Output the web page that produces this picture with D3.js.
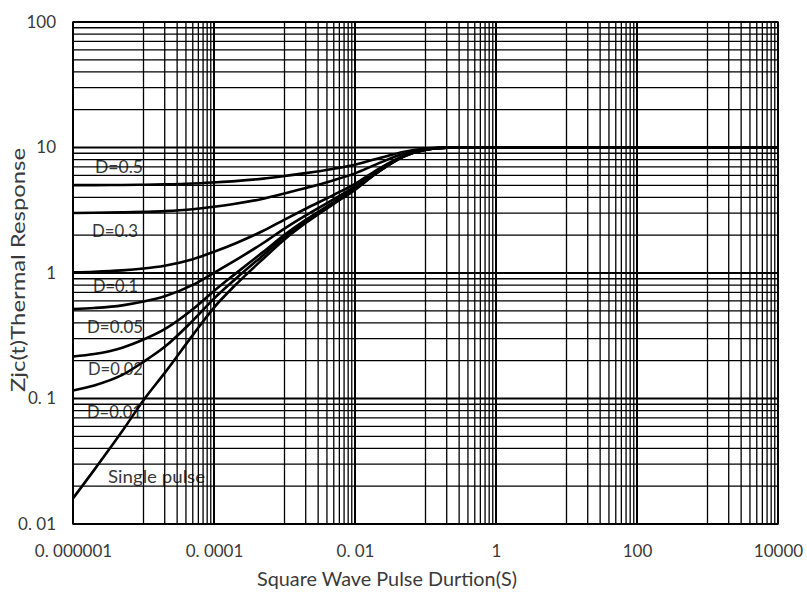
<!DOCTYPE html>
<html><head><meta charset="utf-8">
<script src="https://cdn.jsdelivr.net/npm/d3@7"></script>
<style>body{margin:0;background:#fff}</style>
</head><body>
<svg id="c" width="807" height="592"></svg>
<script>
// ---------- data ----------
const pulseDurations = [1e-6,2e-6,5e-6,1e-5,2e-5,5e-5,1e-4,2e-4,5e-4,1e-3,2e-3,5e-3,1e-2,2e-2,5e-2,1e-1,2e-1,1,10,100,1000,10000];
const dutyD05  = [5.01,5.01,5.03,5.05,5.08,5.16,5.27,5.40,5.65,5.93,6.25,6.78,7.30,8.10,9.25,9.80,9.98,10,10,10,10,10];
const dutyD03  = [3.01,3.02,3.04,3.07,3.11,3.22,3.37,3.56,3.91,4.30,4.75,5.49,6.22,7.34,8.95,9.72,9.97,10,10,10,10,10];
const dutyD01  = [1.014,1.024,1.05,1.087,1.144,1.288,1.477,1.72,2.17,2.665,3.25,4.195,5.14,6.58,8.65,9.64,9.955,10,10,10,10,10];
const dutyD005 = [0.515,0.526,0.552,0.592,0.652,0.804,1.004,1.26,1.735,2.258,2.875,3.873,4.87,6.39,8.575,9.62,9.95,10,10,10,10,10];
const dutyD002 = [0.216,0.226,0.254,0.295,0.357,0.514,0.719,0.984,1.474,2.013,2.65,3.679,4.708,6.276,8.53,9.608,9.951,10,10,10,10,10];
const dutyD001 = [0.116,0.127,0.154,0.196,0.258,0.417,0.625,0.892,1.387,1.932,2.575,3.615,4.654,6.238,8.515,9.604,9.95,10,10,10,10,10];
const singlePulse = [0.016,0.027,0.055,0.097,0.16,0.32,0.53,0.80,1.30,1.85,2.5,3.55,4.6,6.2,8.5,9.6,9.95,10,10,10,10,10];
const seriesNames = ["D=0.5","D=0.3","D=0.1","D=0.05","D=0.02","D=0.01","Single pulse"];
const seriesValues = [dutyD05,dutyD03,dutyD01,dutyD005,dutyD002,dutyD001,singlePulse];

const xTickValues = [1e-6,1e-4,1e-2,1,100,10000];
const xTickLabels = ["0. 000001","0. 0001","0. 01","1","100","10000"];
const yTickValues = [0.01,0.1,1,10,100];
const yTickLabels = ["0. 01","0. 1","1","10","100"];
const xMinorDecades = [1e-5,1e-3,1e-1,10,1000];
const xMinorMultipliers = [1,2,3,4,5,6,7,8,9];
const yMinorDecades = [0.01,0.1,1,10];
const yMinorMultipliers = [2,3,4,5,6,7,8,9];
const xTitle = "Square Wave Pulse Durtion(S)";
const yTitle = "Zjc(t)Thermal Response";

// ---------- layout ----------
const L = 73, R = 778, T = 22, B = 524;
const svg = d3.select("#c");
const x = d3.scaleLog().domain([1e-6,1e4]).range([L,R]);
const y = d3.scaleLog().domain([0.01,100]).range([B,T]);
const FONT = "Lato, 'Open Sans', sans-serif";
const TXT = "#3a3a3a";

// curve labels (under the grid, as in the reference)
const labelPos = [[95,173],[92,237],[93,292],[87,333],[88,375],[87,418],[108,483]];
const labelLen = [48,46,45,56,55,55,97];
svg.append("g").selectAll("text").data(seriesNames).join("text")
  .attr("x",(d,i)=>labelPos[i][0]).attr("y",(d,i)=>labelPos[i][1])
  .attr("textLength",(d,i)=>labelLen[i]).attr("lengthAdjust","spacingAndGlyphs")
  .attr("font-family",FONT).attr("font-size",17).attr("fill",TXT).text(d=>d);

// grid
const xMinor = xMinorDecades.flatMap(d=>xMinorMultipliers.map(m=>d*m));
const yMinor = yMinorDecades.flatMap(d=>yMinorMultipliers.map(m=>d*m));
const grid = svg.append("g").attr("stroke","#000");
grid.selectAll(".xm").data(xMinor).join("line")
  .attr("x1",d=>x(d)).attr("x2",d=>x(d)).attr("y1",T).attr("y2",B).attr("stroke-width",1.3);
grid.selectAll(".ym").data(yMinor).join("line")
  .attr("y1",d=>y(d)).attr("y2",d=>y(d)).attr("x1",L).attr("x2",R).attr("stroke-width",1.3);
grid.selectAll(".xM").data(xTickValues).join("line")
  .attr("x1",d=>x(d)).attr("x2",d=>x(d)).attr("y1",T).attr("y2",B).attr("stroke-width",2);
grid.selectAll(".yM").data(yTickValues).join("line")
  .attr("y1",d=>y(d)).attr("y2",d=>y(d)).attr("x1",L).attr("x2",R).attr("stroke-width",2);
svg.append("rect").attr("x",L).attr("y",T).attr("width",R-L).attr("height",B-T)
  .attr("fill","none").attr("stroke","#000").attr("stroke-width",1.5);

// curves
const line = d3.line().x((d,i)=>x(pulseDurations[i])).y(d=>y(d)).curve(d3.curveMonotoneX);
svg.append("g").selectAll("path").data(seriesValues).join("path")
  .attr("d",line).attr("fill","none").attr("stroke","#000").attr("stroke-width",2.6);

// axes labels
const xAxis = d3.axisBottom(x).tickValues(xTickValues).tickFormat((d,i)=>xTickLabels[i]).tickSize(0).tickPadding(0);
const gx = svg.append("g").attr("transform",`translate(0,${B})`).call(xAxis);
gx.select(".domain").remove();
gx.selectAll("text").attr("y",21).attr("font-family",FONT).attr("font-size",17).attr("fill",TXT);

const yAxis = d3.axisLeft(y).tickValues(yTickValues).tickFormat((d,i)=>yTickLabels[i]).tickSize(0).tickPadding(0);
const gy = svg.append("g").attr("transform",`translate(${L},0)`).call(yAxis);
gy.select(".domain").remove();
gy.selectAll("text").attr("x",-17).attr("font-family",FONT).attr("font-size",17).attr("fill",TXT);

svg.append("text").attr("x",387).attr("y",586).attr("text-anchor","middle")
  .attr("textLength",260).attr("lengthAdjust","spacingAndGlyphs")
  .attr("font-family",FONT).attr("font-size",19).attr("fill",TXT).text(xTitle);
svg.append("text").attr("transform",`translate(25,${270}) rotate(-90)`).attr("text-anchor","middle")
  .attr("textLength",244).attr("lengthAdjust","spacingAndGlyphs")
  .attr("font-family",FONT).attr("font-size",19).attr("fill",TXT).text(yTitle);
</script>
</body></html>
